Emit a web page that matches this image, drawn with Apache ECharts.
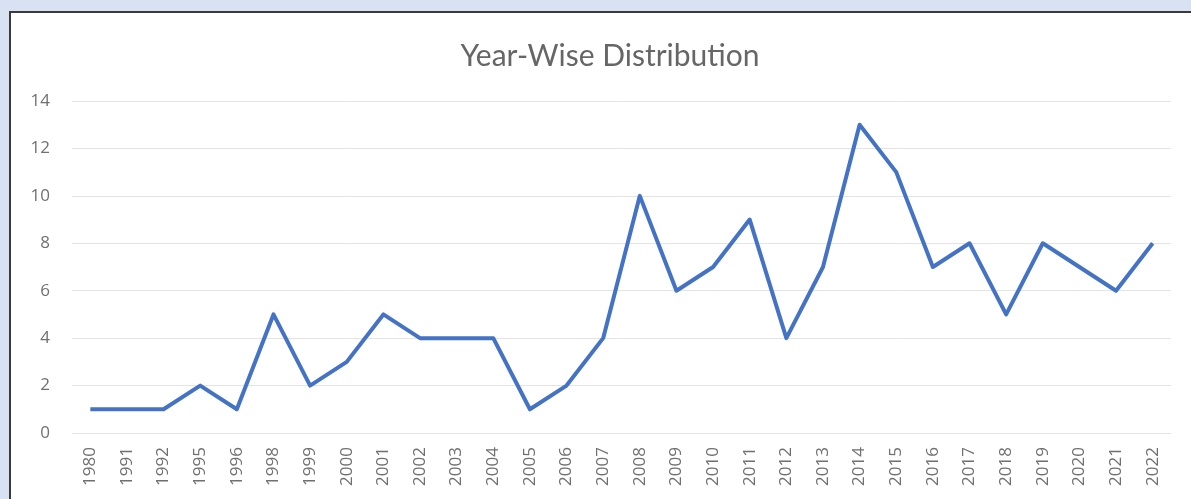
<!DOCTYPE html>
<html>
<head>
<meta charset="utf-8">
<script src="https://cdn.jsdelivr.net/npm/echarts@6/dist/echarts.min.js"></script>
<style>
  html, body { margin:0; padding:0; width:1191px; height:499px; overflow:hidden; background:#d9e2f3; }
  #panel { position:absolute; left:9px; top:11px; width:1200px; height:500px; background:#fff; border-top:2px solid #3a3a3a; border-left:2px solid #3a3a3a; }
  #chart { position:absolute; left:0; top:0; width:1191px; height:499px; }
</style>
</head>
<body>
<div id="panel"></div>
<div id="chart"></div>
<script>
// year-wise counts
var years = ['1980','1991','1992','1995','1996','1998','1999','2000','2001','2002','2003','2004','2005','2006','2007',
             '2008','2009','2010','2011','2012','2013','2014','2015','2016','2017','2018','2019','2020','2021','2022'];
var counts = [1,1,1,2,1,5,2,3,5,4,4,4,1,2,4,10,6,7,9,4,7,13,11,7,8,5,8,7,6,8];
var yTicks = { min:0, max:14, step:2 };

var myChart = echarts.init(document.getElementById('chart'));
myChart.setOption({
    animation: false,
    title: {
        text: 'Year-Wise Distribution',
        left: 605,
        textAlign: 'center',
        top: 36,
        textStyle: { fontFamily:'Lato', fontSize:30, fontWeight:'normal', color:'#666666' }
    },
    grid: { left:72, right:20, top:101, bottom:66 },
    xAxis: {
        type: 'category',
        data: years,
        boundaryGap: true,
        axisLine: { show:false },
        axisTick: { show:false },
        axisLabel: { rotate:90, color:'#707070', fontFamily:'Open Sans', fontSize:17, margin:14 }
    },
    yAxis: {
        type: 'value',
        min: yTicks.min,
        max: yTicks.max,
        interval: yTicks.step,
        axisLine: { show:false },
        axisTick: { show:false },
        axisLabel: { color:'#707070', fontFamily:'Open Sans', fontSize:17, margin:22 },
        splitLine: { lineStyle: { color:'#e4e4e4', width:1 } }
    },
    series: [{
        type: 'line',
        data: counts,
        symbol: 'none',
        lineStyle: { color:'#4472c4', width:4, join:'round' }
    }]
});
</script>
</body>
</html>
